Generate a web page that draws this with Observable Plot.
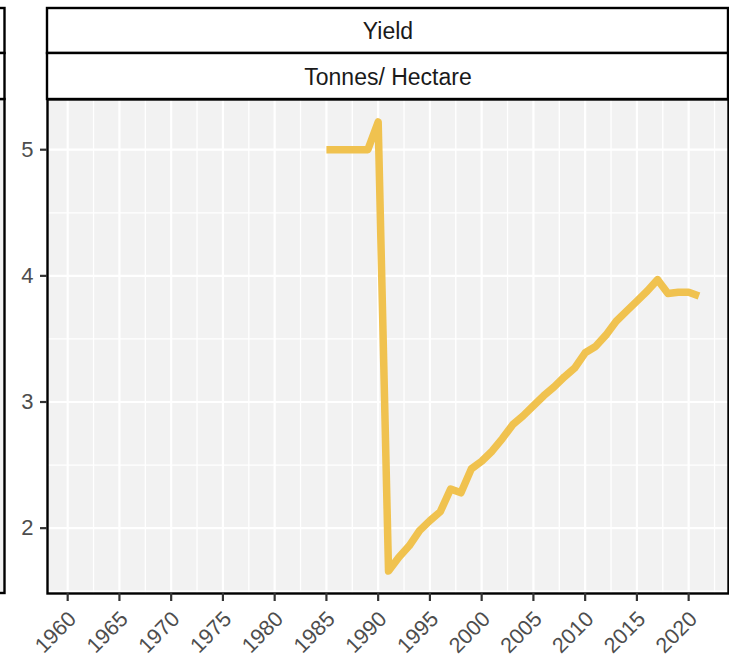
<!DOCTYPE html>
<html>
<head>
<meta charset="utf-8">
<script src="https://cdn.jsdelivr.net/npm/d3@7"></script>
<script src="https://cdn.jsdelivr.net/npm/@observablehq/plot@0.6"></script>
<style>
  html, body { margin: 0; padding: 0; background: white; }
  #chart { width: 729px; height: 658px; }
</style>
</head>
<body>
<div id="chart"></div>
<script>
// ---- data ----
const stripTitle = "Yield";
const stripUnit = "Tonnes/ Hectare";
const years = [1985, 1986, 1987, 1988, 1989, 1990, 1991, 1992, 1993, 1994,
               1995, 1996, 1997, 1998, 1999, 2000, 2001, 2002, 2003, 2004,
               2005, 2006, 2007, 2008, 2009, 2010, 2011, 2012, 2013, 2014,
               2015, 2016, 2017, 2018, 2019, 2020, 2021];
const yields = [5.00, 5.00, 5.00, 5.00, 5.00, 5.22, 1.66, 1.77, 1.86, 1.98,
                2.06, 2.13, 2.31, 2.28, 2.47, 2.53, 2.61, 2.71, 2.82, 2.89,
                2.97, 3.05, 3.12, 3.20, 3.27, 3.39, 3.44, 3.53, 3.64, 3.72,
                3.80, 3.88, 3.97, 3.86, 3.87, 3.87, 3.84];
const xTicks = [1960, 1965, 1970, 1975, 1980, 1985, 1990, 1995, 2000, 2005, 2010, 2015, 2020];
const xMinor = [1962.5, 1967.5, 1972.5, 1977.5, 1982.5, 1987.5, 1992.5, 1997.5, 2002.5, 2007.5, 2012.5, 2017.5, 2022.5];
const yTicks = [2, 3, 4, 5];
const yMinor = [1.5, 2.5, 3.5, 4.5];

const lineColor = "#F0C24F";
const data = years.map((yr, i) => ({year: yr, value: yields[i]}));

const chart = Plot.plot({
  width: 729,
  height: 658,
  marginLeft: 47,
  marginRight: 1,
  marginTop: 99,
  marginBottom: 65,
  style: {fontFamily: "'Liberation Sans', Arial, sans-serif", background: "white", color: "#4D4D4D", overflow: "visible"},
  x: {domain: [1958.05, 2023.85]},
  y: {domain: [1.482, 5.398]},
  marks: [
    Plot.frame({fill: "#F2F2F2", stroke: null}),
    Plot.ruleX(xMinor, {x: d => d, stroke: "white", strokeWidth: 1.3}),
    Plot.ruleY(yMinor, {y: d => d, stroke: "white", strokeWidth: 1.3}),
    Plot.ruleX(xTicks, {x: d => d, stroke: "white", strokeWidth: 2.2}),
    Plot.ruleY(yTicks, {y: d => d, stroke: "white", strokeWidth: 2.2}),
    Plot.line(data, {x: "year", y: "value", stroke: lineColor, strokeWidth: 7.5, strokeLinejoin: "round", strokeLinecap: "butt"}),
    Plot.frame({stroke: "black", strokeWidth: 2.4}),
    Plot.axisY({ticks: yTicks, tickSize: 7, tickPadding: 7, fontSize: 22, label: null, stroke: "#333333", strokeWidth: 2.2, tickFormat: d => String(d)}),
    Plot.axisX({ticks: xTicks, tickSize: 8, tickFormat: () => "", label: null, stroke: "#333333", strokeWidth: 2.2}),
    Plot.text(xTicks, {x: d => d, frameAnchor: "bottom", text: d => String(d), rotate: -45, textAnchor: "end", lineAnchor: "top", dx: -1, dy: 16, fontSize: 21.5, fill: "#4D4D4D"}),
    Plot.text([stripTitle], {frameAnchor: "top", lineAnchor: "middle", text: d => d, dy: -68, fontSize: 23, fill: "#1A1A1A"}),
    Plot.text([stripUnit], {frameAnchor: "top", lineAnchor: "middle", text: d => d, dy: -22, fontSize: 23, fill: "#1A1A1A"})
  ]
});

// facet strips and neighbouring panel edge (decoration)
const svg = d3.select(chart);
const deco = svg.insert("g", ":first-child");
const left = 47, right = 728;
deco.append("rect").attr("x", left).attr("y", 8).attr("width", right - left).attr("height", 45)
  .attr("fill", "white").attr("stroke", "black").attr("stroke-width", 2.4);
deco.append("rect").attr("x", left).attr("y", 53).attr("width", right - left).attr("height", 46)
  .attr("fill", "white").attr("stroke", "black").attr("stroke-width", 2.4);
// cut-off neighbouring facet at far left
deco.append("rect").attr("x", -100).attr("y", 99).attr("width", 104.5).attr("height", 494)
  .attr("fill", "#F2F2F2").attr("stroke", "black").attr("stroke-width", 2.4);
deco.append("rect").attr("x", -100).attr("y", 8).attr("width", 104.5).attr("height", 45)
  .attr("fill", "white").attr("stroke", "black").attr("stroke-width", 2.4);
deco.append("rect").attr("x", -100).attr("y", 53).attr("width", 104.5).attr("height", 46)
  .attr("fill", "white").attr("stroke", "black").attr("stroke-width", 2.4);

document.getElementById("chart").appendChild(chart);
</script>
</body>
</html>
